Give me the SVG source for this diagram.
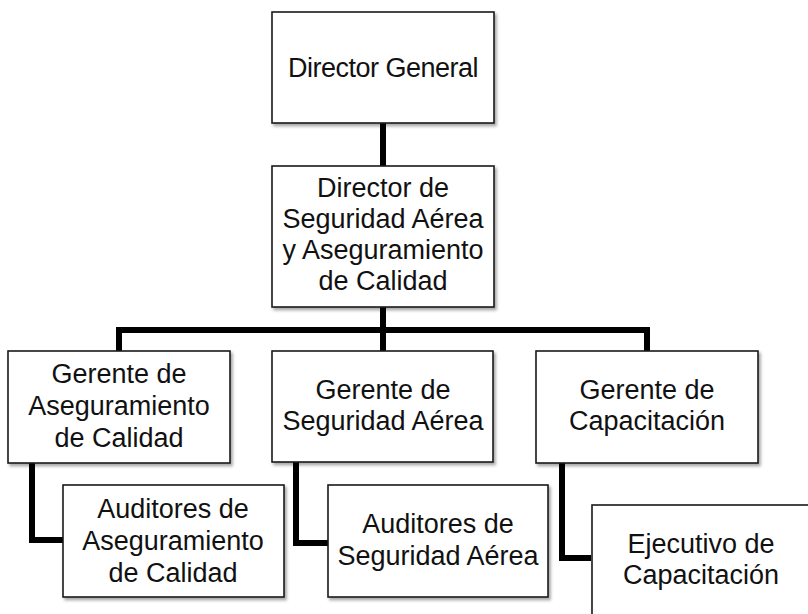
<svg xmlns="http://www.w3.org/2000/svg" width="808" height="614" viewBox="0 0 808 614">
<defs>
<filter id="sh" x="-10%" y="-10%" width="130%" height="130%">
<feDropShadow dx="2" dy="2.5" stdDeviation="1.5" flood-color="#000" flood-opacity="0.35"/>
</filter>
<style>
.box{fill:#fff;stroke:#1a1a1a;stroke-width:1.6;filter:url(#sh)}
.t{font-family:"Liberation Sans",Arial,sans-serif;font-size:27px;fill:#111;text-anchor:middle}
.c{fill:none;stroke:#000;stroke-width:6;stroke-linejoin:miter;stroke-linecap:butt}
</style>
</defs>
<rect width="808" height="614" fill="#fff"/>
<g id="connectors">
<path class="c" d="M383 123V166"/>
<path class="c" d="M383 307V330M119 351V330H647V351M383 330V351"/>
<path class="c" d="M32 463V540H63"/>
<path class="c" d="M296 462V543H328"/>
<path class="c" d="M562 463V558H591"/>
</g>
<g id="director-general">
<rect class="box" x="272" y="12" width="222" height="111"/>
<text class="t" x="383" y="77" letter-spacing="-0.5">Director General</text>
</g>
<g id="director-seguridad">
<rect class="box" x="272" y="166" width="222" height="141"/>
<text class="t" x="383" y="197">Director de<tspan x="383" dy="31">Seguridad Aérea</tspan><tspan x="383" dy="31">y Aseguramiento</tspan><tspan x="383" dy="31">de Calidad</tspan></text>
</g>
<g id="gerente-aseguramiento">
<rect class="box" x="8" y="351" width="222" height="112"/>
<text class="t" x="119" y="383">Gerente de<tspan x="119" dy="32">Aseguramiento</tspan><tspan x="119" dy="32">de Calidad</tspan></text>
</g>
<g id="gerente-seguridad">
<rect class="box" x="272" y="351" width="221" height="111"/>
<text class="t" x="383" y="399">Gerente de<tspan x="383" dy="31">Seguridad Aérea</tspan></text>
</g>
<g id="gerente-capacitacion">
<rect class="box" x="536" y="351" width="222" height="112"/>
<text class="t" x="647" y="399">Gerente de<tspan x="647" dy="31">Capacitación</tspan></text>
</g>
<g id="auditores-aseguramiento">
<rect class="box" x="63" y="485" width="221" height="112"/>
<text class="t" x="173" y="518">Auditores de<tspan x="173" dy="32">Aseguramiento</tspan><tspan x="173" dy="32">de Calidad</tspan></text>
</g>
<g id="auditores-seguridad">
<rect class="box" x="328" y="485" width="220" height="112"/>
<text class="t" x="438" y="533">Auditores de<tspan x="438" dy="32">Seguridad Aérea</tspan></text>
</g>
<g id="ejecutivo-capacitacion">
<rect class="box" x="592" y="505" width="220" height="120"/>
<text class="t" x="701" y="553">Ejecutivo de<tspan x="701" dy="31">Capacitación</tspan></text>
</g>
</svg>
